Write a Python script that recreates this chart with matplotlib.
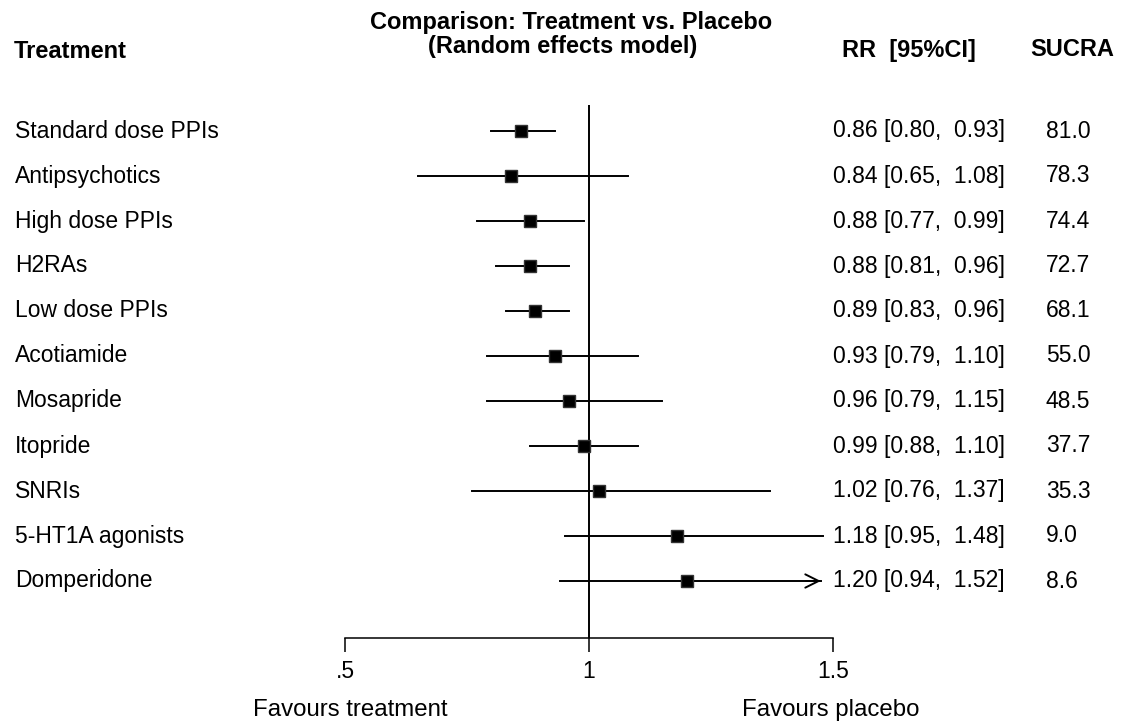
import matplotlib.pyplot as plt
import numpy as np

plt.rcParams['font.family'] = ['Liberation Sans', 'DejaVu Sans']

# data
treatments = ['Standard dose PPIs', 'Antipsychotics', 'High dose PPIs', 'H2RAs',
              'Low dose PPIs', 'Acotiamide', 'Mosapride', 'Itopride', 'SNRIs',
              '5-HT1A agonists', 'Domperidone']
rr = [0.86, 0.84, 0.88, 0.88, 0.89, 0.93, 0.96, 0.99, 1.02, 1.18, 1.20]
lower = [0.80, 0.65, 0.77, 0.81, 0.83, 0.79, 0.79, 0.88, 0.76, 0.95, 0.94]
upper = [0.93, 1.08, 0.99, 0.96, 0.96, 1.10, 1.15, 1.10, 1.37, 1.48, 1.52]
sucra = [81.0, 78.3, 74.4, 72.7, 68.1, 55.0, 48.5, 37.7, 35.3, 9.0, 8.6]
xticks = [0.5, 1, 1.5]
xticklabels = ['.5', '1', '1.5']
arrow_end = 1.475  # where truncated CIs stop

FS = 16.5
head = dict(fontsize=17, fontweight='bold')

W, H = 1122, 724
fig = plt.figure(figsize=(W / 100, H / 100), dpi=100)

# forest axes: x .5 -> 1.5 spans px 345..833, y from px 105 to 638
ax = fig.add_axes([345 / W, 1 - 638 / H, (833 - 345) / W, (638 - 105) / H])
n = len(treatments)
ax.set_xlim(0.5, 1.5)
ax.set_ylim(n - 1 + 57 / 45, -26 / 45)

LW = 1.4
ax.axvline(1, color='black', lw=LW)
for i in range(n):
    hi = upper[i]
    if hi > xticks[-1]:
        ax.plot([lower[i], arrow_end], [i, i], color='black', lw=LW, clip_on=False)
        ax.annotate('', xy=(arrow_end, i), xytext=(arrow_end - 0.03, i),
                    arrowprops=dict(arrowstyle='->', color='black', lw=LW,
                                    mutation_scale=24, shrinkA=0, shrinkB=0))
    else:
        ax.plot([lower[i], hi], [i, i], color='black', lw=LW)
    ax.plot(rr[i], i, marker='s', ms=9, mfc='black', mec='#333333', mew=1.0, zorder=3)

for s in ['top', 'right', 'left']:
    ax.spines[s].set_visible(False)
ax.spines['bottom'].set_linewidth(1.1)
ax.set_yticks([])
ax.set_xticks(xticks)
ax.set_xticklabels(xticklabels, fontsize=FS)
ax.tick_params(axis='x', length=10, width=1.1, pad=6)

# row text
for i in range(n):
    yy = 1 - (131 + 45 * i) / H
    fig.text(15 / W, yy, treatments[i], fontsize=FS, va='center', ha='left')
    fig.text(833 / W, yy, f'{rr[i]:.2f} [{lower[i]:.2f},  {upper[i]:.2f}]',
             fontsize=FS, va='center', ha='left')
    fig.text(1046 / W, yy, f'{sucra[i]:.1f}', fontsize=FS, va='center', ha='left')

# headers
fig.text(14 / W, 1 - 52 / H, 'Treatment', va='center', **head)
fig.text(571 / W, 1 - 22 / H, 'Comparison: Treatment vs. Placebo',
         va='center', ha='center', **head)
fig.text(563 / W, 1 - 47 / H, '(Random effects model)',
         va='center', ha='center', **head)
fig.text(842 / W, 1 - 51 / H, 'RR  [95%CI]', va='center', **head)
fig.text(1030 / W, 1 - 50 / H, 'SUCRA', va='center', **head)

fig.text(350 / W, 1 - 710 / H, 'Favours treatment', fontsize=17.3, va='center', ha='center')
fig.text(831 / W, 1 - 710 / H, 'Favours placebo', fontsize=17.3, va='center', ha='center')

fig.savefig('out.png', dpi=100, facecolor='white')
